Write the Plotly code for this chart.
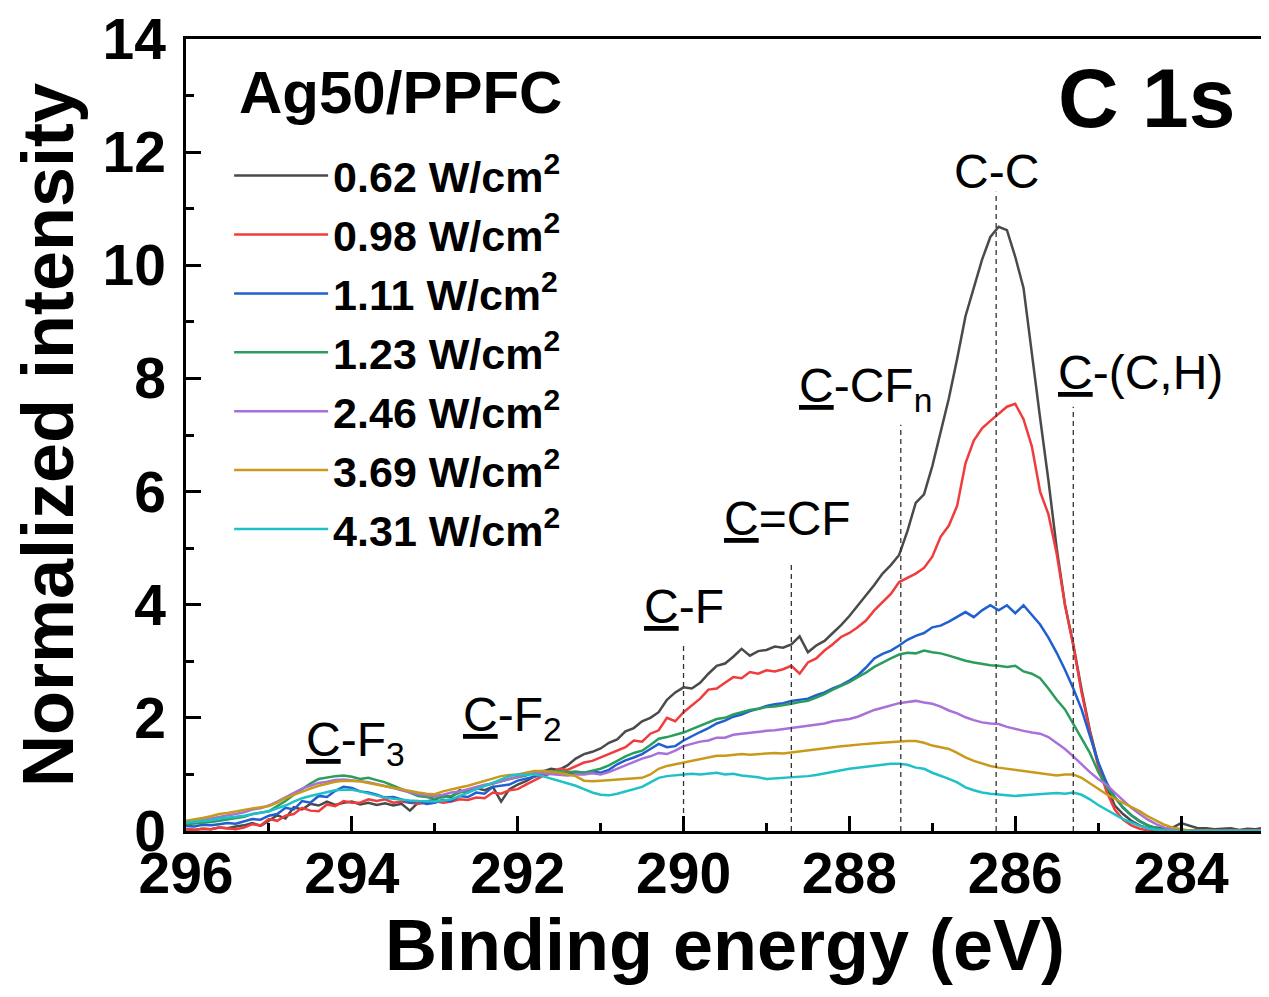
import plotly.graph_objects as go

# Binding energy grid (eV), 0.1 eV steps from 296.0 to 283.0
energy = [round(296.0 - 0.1 * i, 1) for i in range(131)]

power_labels = ["0.62", "0.98", "1.11", "1.23", "2.46", "3.69", "4.31"]
colors = ["#4a4a4a", "#f03c3c", "#1f5fd0", "#2a9d5c", "#a870d8", "#c99a1a", "#20c0c8"]

int_062 = [
    0.03, 0.02, 0.04, 0.03, 0.06, 0.05, 0.08, 0.10, 0.14, 0.09,
    0.18, 0.28, 0.22, 0.42, 0.38, 0.48, 0.45, 0.52, 0.46, 0.50,
    0.52, 0.47, 0.50, 0.46, 0.49, 0.45, 0.48, 0.36, 0.50, 0.52,
    0.55, 0.62, 0.60, 0.72, 0.68, 0.76, 0.72, 0.78, 0.52, 0.74,
    0.82, 0.88, 0.96, 1.05, 1.10, 1.08, 1.16, 1.28, 1.36, 1.40,
    1.46, 1.56, 1.62, 1.76, 1.82, 1.94, 2.00, 2.10, 2.32, 2.45,
    2.54, 2.52, 2.62, 2.78, 2.92, 2.96, 3.08, 3.22, 3.10, 3.18,
    3.20, 3.26, 3.24, 3.30, 3.44, 3.16, 3.28, 3.36, 3.50, 3.64,
    3.80, 3.98, 4.15, 4.35, 4.55, 4.70, 4.88, 5.30, 5.80, 5.95,
    6.45, 7.05, 7.65, 8.35, 9.10, 9.60, 10.10, 10.50, 10.68, 10.62,
    10.15, 9.60, 8.40, 7.30, 6.20, 5.00, 4.00, 3.30, 2.50, 1.78,
    1.20, 0.80, 0.45, 0.30, 0.18, 0.10, 0.05, 0.06, 0.04, 0.06,
    0.14, 0.10, 0.05, 0.05, 0.03, 0.04, 0.05, 0.02, 0.04, 0.03,
    0.06,
]
int_098 = [
    0.03, 0.02, 0.04, 0.03, 0.06, 0.05, 0.03, 0.06, 0.12, 0.10,
    0.21, 0.18, 0.27, 0.30, 0.41, 0.36, 0.35, 0.47, 0.44, 0.53,
    0.50, 0.50, 0.56, 0.53, 0.56, 0.50, 0.52, 0.50, 0.48, 0.50,
    0.53, 0.50, 0.52, 0.56, 0.55, 0.59, 0.58, 0.68, 0.66, 0.72,
    0.74, 0.82, 0.90, 0.97, 1.02, 1.10, 1.08, 1.14, 1.21, 1.24,
    1.30, 1.36, 1.42, 1.48, 1.60, 1.58, 1.72, 1.78, 2.00, 1.94,
    2.10, 2.22, 2.34, 2.50, 2.52, 2.62, 2.72, 2.70, 2.81, 2.78,
    2.84, 2.82, 2.86, 2.92, 2.78, 2.98, 3.05, 3.19, 3.30, 3.43,
    3.50, 3.60, 3.72, 3.90, 4.05, 4.19, 4.40, 4.48, 4.55, 4.65,
    4.85, 5.20, 5.40, 5.75, 6.50, 6.90, 7.12, 7.25, 7.38, 7.50,
    7.55, 7.28, 6.80, 6.00, 5.60, 4.90, 4.00, 3.28, 2.45, 1.75,
    1.15, 0.70, 0.38, 0.20, 0.10, 0.04, 0.01, 0.00, 0.01, 0.00,
    0.00, 0.01, 0.00, 0.00, 0.01, 0.00, 0.00, 0.01, 0.00, 0.00,
    0.01,
]
int_111 = [
    0.09, 0.08, 0.11, 0.10, 0.12, 0.14, 0.13, 0.17, 0.21, 0.20,
    0.27, 0.30, 0.41, 0.38, 0.53, 0.50, 0.62, 0.60, 0.71, 0.78,
    0.76, 0.70, 0.68, 0.64, 0.59, 0.60, 0.56, 0.50, 0.53, 0.48,
    0.50, 0.55, 0.53, 0.62, 0.60, 0.68, 0.66, 0.78, 0.80, 0.82,
    0.89, 0.92, 0.96, 1.00, 1.02, 1.03, 1.00, 1.04, 1.03, 1.05,
    1.03, 1.08, 1.18, 1.25, 1.30, 1.36, 1.45, 1.54, 1.48, 1.50,
    1.60, 1.68, 1.75, 1.82, 1.90, 1.95, 2.02, 2.06, 2.12, 2.16,
    2.21, 2.24, 2.26, 2.30, 2.32, 2.34, 2.40, 2.45, 2.52, 2.58,
    2.66, 2.75, 2.89, 3.05, 3.13, 3.19, 3.28, 3.38, 3.45, 3.50,
    3.60, 3.63, 3.70, 3.78, 3.87, 3.78, 3.90, 3.99, 3.90, 3.99,
    3.85, 3.99, 3.82, 3.65, 3.42, 3.15, 2.85, 2.52, 2.15, 1.70,
    1.22, 0.86, 0.60, 0.41, 0.28, 0.17, 0.10, 0.05, 0.02, 0.01,
    0.01, 0.00, 0.01, 0.00, 0.00, 0.01, 0.00, 0.00, 0.01, 0.00,
    0.00,
]
int_123 = [
    0.12, 0.13, 0.15, 0.16, 0.18, 0.20, 0.22, 0.25, 0.30, 0.32,
    0.35, 0.44, 0.53, 0.64, 0.74, 0.84, 0.92, 0.95, 0.97, 0.98,
    0.96, 0.92, 0.94, 0.90, 0.86, 0.80, 0.74, 0.68, 0.62, 0.60,
    0.57, 0.60, 0.62, 0.68, 0.72, 0.76, 0.80, 0.84, 0.89, 0.92,
    0.95, 0.98, 1.04, 1.06, 1.05, 1.06, 1.04, 1.05, 1.03, 1.06,
    1.10, 1.16, 1.24, 1.32, 1.38, 1.42, 1.52, 1.63, 1.66, 1.70,
    1.74, 1.80, 1.86, 1.92, 1.98, 2.00, 2.06, 2.10, 2.14, 2.16,
    2.19, 2.20, 2.22, 2.25, 2.28, 2.30, 2.36, 2.42, 2.50, 2.56,
    2.63, 2.72, 2.80, 2.90, 2.98, 3.05, 3.12, 3.15, 3.14, 3.19,
    3.16, 3.14, 3.10, 3.05, 3.01, 2.98, 2.95, 2.93, 2.92, 2.90,
    2.92, 2.82, 2.78, 2.70, 2.52, 2.32, 2.15, 1.90, 1.65, 1.38,
    1.05, 0.78, 0.60, 0.42, 0.28, 0.18, 0.10, 0.05, 0.02, 0.01,
    0.00, 0.01, 0.00, 0.00, 0.01, 0.00, 0.00, 0.00, 0.01, 0.00,
    0.00,
]
int_246 = [
    0.15, 0.17, 0.19, 0.22, 0.25, 0.27, 0.30, 0.33, 0.38, 0.40,
    0.45, 0.52, 0.60, 0.68, 0.75, 0.80, 0.85, 0.87, 0.90, 0.91,
    0.90, 0.88, 0.86, 0.83, 0.80, 0.76, 0.72, 0.68, 0.65, 0.63,
    0.62, 0.64, 0.68, 0.70, 0.74, 0.78, 0.82, 0.84, 0.88, 0.92,
    0.97, 1.00, 1.03, 1.02, 1.00, 1.00, 0.98, 1.00, 1.00, 1.02,
    1.00, 1.04, 1.10, 1.16, 1.22, 1.28, 1.32, 1.38, 1.36, 1.42,
    1.50, 1.54, 1.58, 1.60, 1.65, 1.65, 1.70, 1.72, 1.74, 1.76,
    1.77, 1.78, 1.80, 1.81, 1.84, 1.86, 1.88, 1.90, 1.94, 1.96,
    1.98, 2.02, 2.08, 2.14, 2.18, 2.22, 2.26, 2.28, 2.30, 2.27,
    2.25, 2.20, 2.13, 2.08, 2.01, 1.96, 1.92, 1.90, 1.89, 1.84,
    1.80, 1.77, 1.74, 1.72, 1.66, 1.55, 1.45, 1.32, 1.18, 1.04,
    0.92, 0.82, 0.68, 0.54, 0.41, 0.30, 0.20, 0.12, 0.06, 0.03,
    0.01, 0.00, 0.01, 0.00, 0.00, 0.00, 0.01, 0.00, 0.00, 0.00,
    0.01,
]
int_369 = [
    0.18, 0.20, 0.23, 0.26, 0.30, 0.32, 0.35, 0.37, 0.40, 0.42,
    0.44, 0.50, 0.58, 0.64, 0.70, 0.75, 0.80, 0.84, 0.87, 0.89,
    0.89, 0.88, 0.85, 0.82, 0.80, 0.77, 0.74, 0.70, 0.68, 0.66,
    0.65, 0.70, 0.74, 0.77, 0.80, 0.84, 0.89, 0.92, 0.97, 0.99,
    1.00, 1.03, 1.06, 1.06, 1.05, 1.03, 1.00, 0.97, 0.89, 0.88,
    0.89, 0.90, 0.91, 0.92, 0.93, 0.94, 1.00, 1.10, 1.15, 1.18,
    1.21, 1.24, 1.28, 1.30, 1.33, 1.33, 1.34, 1.36, 1.35, 1.36,
    1.36, 1.38, 1.37, 1.39, 1.40, 1.42, 1.44, 1.46, 1.48, 1.50,
    1.51, 1.53, 1.54, 1.55, 1.56, 1.57, 1.59, 1.59, 1.59, 1.56,
    1.51, 1.48, 1.45, 1.38, 1.30, 1.24, 1.19, 1.15, 1.12, 1.10,
    1.07, 1.05, 1.03, 1.01, 1.00, 0.98, 1.00, 1.00, 0.94, 0.84,
    0.74, 0.65, 0.57, 0.50, 0.42, 0.35, 0.26, 0.18, 0.11, 0.06,
    0.03, 0.01, 0.00, 0.01, 0.00, 0.00, 0.00, 0.01, 0.00, 0.00,
    0.00,
]
int_431 = [
    0.15, 0.16, 0.17, 0.19, 0.22, 0.23, 0.25, 0.27, 0.30, 0.32,
    0.35, 0.40, 0.45, 0.52, 0.58, 0.62, 0.65, 0.68, 0.72, 0.73,
    0.73, 0.70, 0.66, 0.62, 0.59, 0.57, 0.55, 0.54, 0.53, 0.52,
    0.52, 0.54, 0.56, 0.62, 0.68, 0.74, 0.80, 0.86, 0.92, 0.97,
    1.00, 1.00, 1.00, 0.97, 0.93, 0.89, 0.85, 0.80, 0.74, 0.68,
    0.64, 0.63, 0.66, 0.70, 0.74, 0.78, 0.86, 0.94, 0.97, 0.98,
    1.00, 1.01, 1.00, 1.02, 1.03, 1.00, 1.01, 0.98, 0.97, 0.95,
    0.92, 0.93, 0.93, 0.94, 0.96, 0.97, 0.99, 1.02, 1.05, 1.07,
    1.10, 1.12, 1.14, 1.15, 1.17, 1.19, 1.19, 1.17, 1.12, 1.10,
    1.03, 0.98, 0.92, 0.86, 0.77, 0.72, 0.68, 0.66, 0.65, 0.64,
    0.62, 0.63, 0.64, 0.65, 0.66, 0.67, 0.66, 0.68, 0.64, 0.56,
    0.46, 0.38, 0.30, 0.21, 0.15, 0.09, 0.05, 0.02, 0.01, 0.00,
    0.00, 0.00, 0.00, 0.00, 0.00, 0.00, 0.00, 0.00, 0.00, 0.00,
    0.00,
]
series = [int_062, int_098, int_111, int_123, int_246, int_369, int_431]

# Component reference lines: position (eV) and top of dashed line
peak_pos = [290.0, 288.7, 287.38, 286.23, 285.3]
peak_top = [3.29, 4.70, 7.18, 11.30, 7.50]

# Component labels: text, x (eV), y
label_text = ["<u>C</u>-F<sub>3</sub>", "<u>C</u>-F<sub>2</sub>", "<u>C</u>-F",
              "<u>C</u>=CF", "<u>C</u>-CF<sub>n</sub>", "C-C", "<u>C</u>-(C,H)"]
label_x = [293.96, 292.06, 289.99, 288.75, 287.8, 286.22, 284.49]
label_y = [1.55, 1.99, 3.96, 5.52, 7.82, 11.65, 8.11]

FONT = "Liberation Sans, Arial, sans-serif"

fig = go.Figure()
for lab, vals, col in zip(power_labels, series, colors):
    fig.add_trace(go.Scatter(
        x=energy, y=vals, mode="lines",
        line=dict(color=col, width=2.5),
        name=f"{lab} W/cm<sup>2</sup>",
    ))

for px, pt in zip(peak_pos, peak_top):
    fig.add_trace(go.Scatter(
        x=[px, px], y=[0, pt], mode="lines",
        line=dict(color="#333333", width=1.3, dash="5px,4px"),
        showlegend=False, hoverinfo="skip",
    ))

annotations = []
for t, x, y in zip(label_text, label_x, label_y):
    annotations.append(dict(
        text=t, x=x, y=y, xref="x", yref="y", showarrow=False,
        xanchor="center", yanchor="middle",
        font=dict(family=FONT, size=48, color="black"),
    ))
annotations.append(dict(
    text="Ag50/PPFC", x=295.38, y=13.06, xref="x", yref="y", showarrow=False,
    xanchor="left", yanchor="middle",
    font=dict(family=FONT, size=60, color="black", weight="bold"),
))
annotations.append(dict(
    text="C 1s", x=284.42, y=12.96, xref="x", yref="y", showarrow=False,
    xanchor="center", yanchor="middle",
    font=dict(family=FONT, size=84, color="black", weight="bold"),
))

axis_common = dict(
    showline=True, linewidth=2.5, linecolor="black", mirror=True,
    showgrid=False, zeroline=False, automargin=False,
    ticks="inside", ticklen=15, tickwidth=2.5, tickcolor="black",
    ticklabeloverflow="allow",
    tickfont=dict(family=FONT, size=57, color="black", weight="bold"),
)

# The page body adds an 8 px offset, so the figure is sized to fit inside it.
fig.update_layout(
    width=1261, height=989,
    margin=dict(l=178, r=5, t=31, b=166),
    paper_bgcolor="white", plot_bgcolor="white",
    showlegend=True,
    legend=dict(
        x=0.04, y=0.871, xanchor="left", yanchor="top",
        bgcolor="rgba(0,0,0,0)", borderwidth=0,
        font=dict(family=FONT, size=43, color="black", weight="bold"),
        itemwidth=94, tracegroupgap=0,
    ),
    annotations=annotations,
    xaxis=dict(
        range=[296, 283], autorange=False,
        tickmode="linear", tick0=296, dtick=2,
        minor=dict(dtick=1, ticklen=8, tickwidth=2.5, tickcolor="black", ticks="inside"),
        title=dict(text="<b>Binding energy (eV)</b>",
                   font=dict(family=FONT, size=72, color="black"), standoff=13),
        ticklabelstandoff=-9,
        **axis_common,
    ),
    yaxis=dict(
        range=[0, 14], autorange=False,
        tickmode="linear", tick0=0, dtick=2,
        minor=dict(dtick=1, ticklen=8, tickwidth=2.5, tickcolor="black", ticks="inside"),
        title=dict(text="<b>Normalized intensity</b>",
                   font=dict(family=FONT, size=72, color="black"), standoff=10),
        ticklabelstandoff=6,
        **axis_common,
    ),
)

fig.write_html("out.html")
